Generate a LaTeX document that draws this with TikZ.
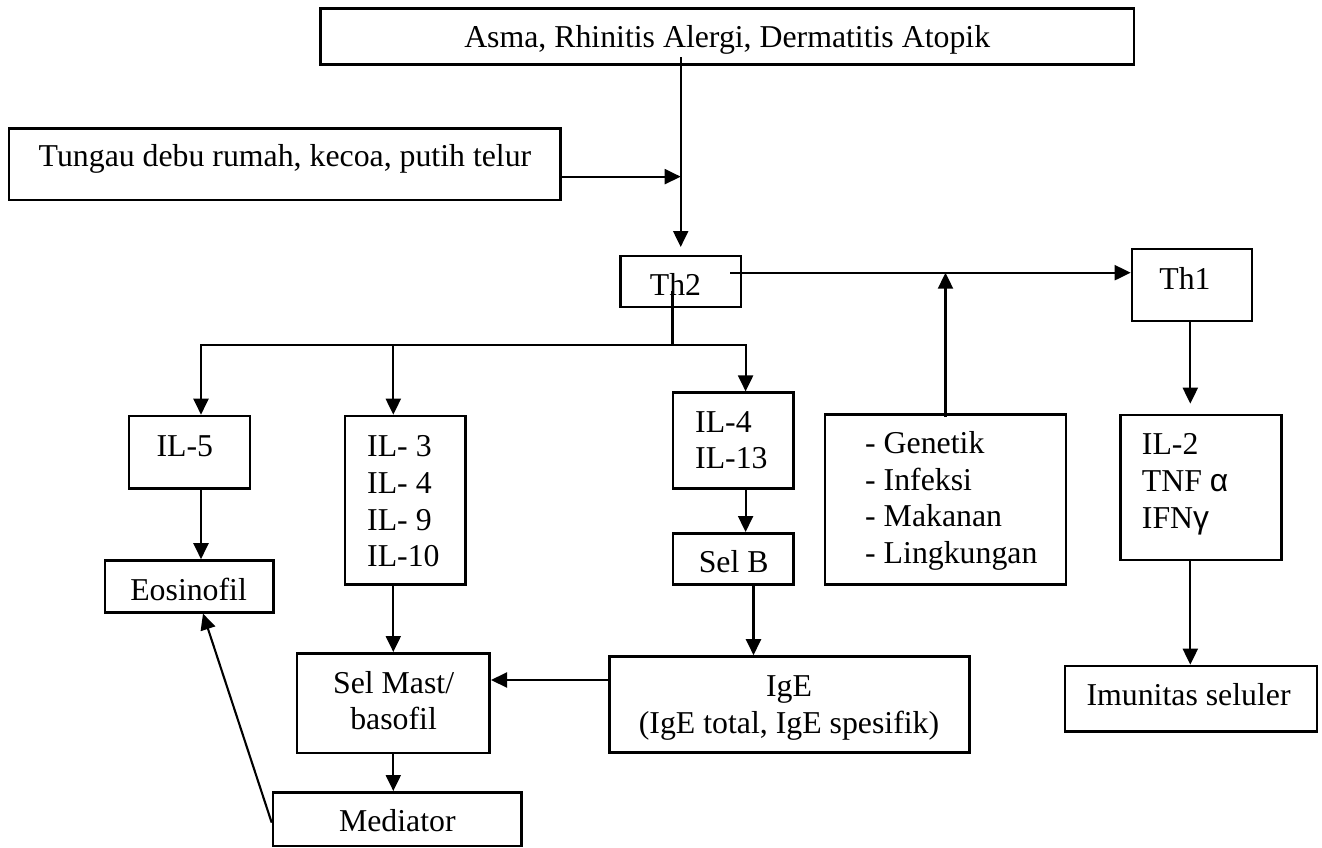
\documentclass[tikz,border=0pt]{standalone}
\usepackage{fontspec}
\setmainfont{Liberation Serif}
\newfontfamily\gsans{Liberation Sans}
\usetikzlibrary{arrows.meta,calc}
\begin{document}
\begin{tikzpicture}[x=1pt,y=-1pt,
  box/.style={draw,line width=2.6pt,inner sep=0pt,rectangle},
  txt/.style={inner sep=0pt,font=\fontsize{31.8}{36.6}\selectfont},
  arr/.style={line width=2.1pt,-{Triangle[length=16pt,width=15pt]}},
  ln/.style={line width=2.1pt}]
\useasboundingbox (0,0) rectangle (1322,848);
% boxes
\node[box,minimum width=813.5pt,minimum height=56pt] (top) at (727.25,36.3) {};
\node[box,minimum width=551.8pt,minimum height=71.7pt] (tung) at (284.8,164.15) {};
\node[box,minimum width=120.4pt,minimum height=51pt] (th2) at (680.7,281.5) {};
\node[box,minimum width=120pt,minimum height=72pt] (th1) at (1192,285) {};
\node[box,minimum width=121pt,minimum height=72.7pt] (il5) at (189.5,452.35) {};
\node[box,minimum width=120.7pt,minimum height=168.3pt] (il3) at (405.35,500.15) {};
\node[box,minimum width=120.7pt,minimum height=95.6pt] (il4) at (733.35,440.5) {};
\node[box,minimum width=241pt,minimum height=169.6pt] (gen) at (945.5,499.5) {};
\node[box,minimum width=161pt,minimum height=145pt] (il2) at (1201,487.5) {};
\node[box,minimum width=168.5pt,minimum height=51.8pt] (eos) at (189.25,586.4) {};
\node[box,minimum width=120.7pt,minimum height=51pt] (selb) at (733.35,558.8) {};
\node[box,minimum width=192.7pt,minimum height=99.7pt] (mast) at (393.35,703.15) {};
\node[box,minimum width=360.5pt,minimum height=96.2pt] (ige) at (789.45,704.6) {};
\node[box,minimum width=251.8pt,minimum height=65.7pt] (imun) at (1190.9,698.85) {};
\node[box,minimum width=248.7pt,minimum height=53.7pt] (med) at (397.35,819.15) {};
% texts (multi-line nodes: base = baseline of last line)
\node[txt,anchor=base] (topT) at (727.2,47.7) {Asma, Rhinitis Alergi, Dermatitis Atopik};
\node[txt,anchor=base] (tungT) at (285,166.7) {Tungau debu rumah, kecoa, putih telur};
\node[txt,anchor=base] (th2T) at (675.5,295) {Th2};
\node[txt,anchor=base] (th1T) at (1185,289.3) {Th1};
\node[txt,anchor=base] (il5T) at (184.8,456.7) {IL-5};
\node[txt,anchor=base west,align=left] (il3T) at (367,566.6) {IL- 3\\IL- 4\\IL- 9\\IL-10};
\node[txt,anchor=base west,align=left] (il4T) at (695,468.8) {IL-4\\IL-13};
\node[txt,anchor=base west,align=left] (genT) at (865,563.3) {- Genetik\\- Infeksi\\- Makanan\\- Lingkungan};
\node[txt,anchor=base west,align=left] (il2T) at (1141.7,528.1) {IL-2\\TNF {\gsans α}\\IFN{\gsans γ}};
\node[txt,anchor=base] (eosT) at (188.6,600.7) {Eosinofil};
\node[txt,anchor=base] (selbT) at (733.7,572.7) {Sel B};
\node[txt,anchor=base,align=center] (mastT) at (393.6,729.9) {Sel Mast/\\basofil};
\node[txt,anchor=base,align=center] (igeT) at (789,733.3) {IgE\\(IgE total, IgE spesifik)};
\node[txt,anchor=base] (imunT) at (1188.6,705.7) {Imunitas seluler};
\node[txt,anchor=base] (medT) at (397.3,831.7) {Mediator};
% helper coordinates
\coordinate (jt) at ($(tung.east)+(0,12.5)$);
\coordinate (s21) at ($(th2.east)+(-12,-8.8)$);
\coordinate (s2d) at ($(th2.south)+(-8.2,-17)$);
\coordinate (br) at ($(th2.south)+(-8.2,37)$);
\coordinate (x5) at (201,344);
\coordinate (x3) at (393.3,344);
\coordinate (x4) at (745.6,344);
\coordinate (xb) at (753.5,0);
\coordinate (yi) at (0,680);
\coordinate (xe) at (203,0);
\coordinate (x1) at (1190.3,0);
% connectors
\draw[arr,shorten >=7.7pt] ($(top.south -| th2.north)+(0,-8.3)$) -- (th2.north);
\draw[arr] (jt) -- (jt -| th2.north);
\draw[arr] (s21) -- (s21 -| th1.west);
\draw[arr] ($(gen.north)+(0,3.6)$) -- (gen.north |- s21);
\draw[ln] (s2d) -- (br);
\draw[arr] (br) -| (x5 |- il5.north);
\draw[arr] (br) -| (x3 |- il3.north);
\draw[arr] (br) -| (x4 |- il4.north);
\draw[arr] (x5 |- il5.south) -- (x5 |- eos.north);
\draw[arr] (x3 |- il3.south) -- (x3 |- mast.north);
\draw[arr] (x4 |- il4.south) -- (x4 |- selb.north);
\draw[arr] (xb |- selb.south) -- (xb |- ige.north);
\draw[arr] (ige.west |- yi) -- (mast.east |- yi);
\draw[arr] (x3 |- mast.south) -- (x3 |- med.north);
\draw[arr] ($(med.west)+(0,3.5)$) -- (xe |- eos.south);
\draw[arr,shorten >=10pt] (x1 |- th1.south) -- (x1 |- il2.north);
\draw[arr] (x1 |- il2.south) -- (x1 |- imun.north);
\end{tikzpicture}
\end{document}
